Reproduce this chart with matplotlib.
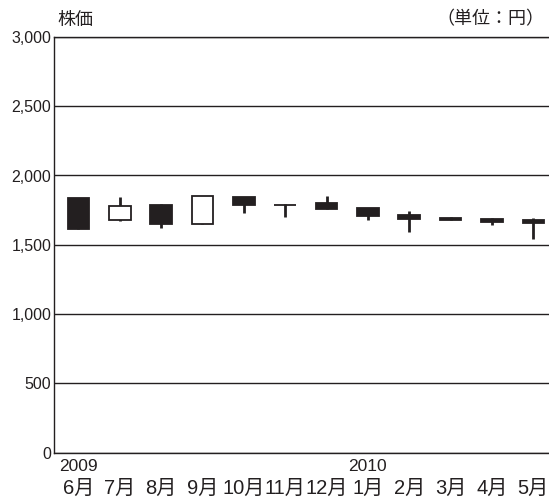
"""
株価の月足チャート（2009年6月〜2010年5月）
python plot.py -> out.png
"""

import matplotlib.pyplot as plt
from matplotlib.patches import Rectangle
import numpy as np

plt.rcParams["font.family"] = ["Liberation Sans", "Noto Sans CJK JP", "DejaVu Sans"]

months = ["6月", "7月", "8月", "9月", "10月", "11月", "12月", "1月", "2月", "3月", "4月", "5月"]
years = {0: "2009", 7: "2010"}

opens = [1835, 1679, 1787, 1650, 1843, 1790, 1799, 1767, 1713, 1693, 1686, 1677]
highs = [1838, 1843, 1796, 1854, 1845, 1792, 1852, 1767, 1744, 1700, 1695, 1693]
lows = [1612, 1671, 1623, 1650, 1727, 1702, 1756, 1679, 1594, 1677, 1643, 1541]
closes = [1615, 1782, 1648, 1854, 1787, 1785, 1756, 1708, 1684, 1677, 1662, 1659]

yticks = [0, 500, 1000, 1500, 2000, 2500, 3000]

ink = "#231f20"
body_w = 0.52

fig = plt.figure(figsize=(5.49, 4.98), dpi=100)
ax = fig.add_axes([54 / 549, (498 - 452.5) / 498, 1 - 54 / 549, 415.5 / 498])

x = np.arange(len(months))
for i in x:
    o, h, l, c = opens[i], highs[i], lows[i], closes[i]
    ax.vlines(i, l, h, color=ink, linewidth=2.0, zorder=2)
    up = c >= o
    ax.add_patch(Rectangle((i - body_w / 2, min(o, c)), body_w, max(abs(c - o), 4),
                           facecolor="white" if up else ink, edgecolor=ink,
                           linewidth=1.3, zorder=3))

ax.set_xlim(-0.59, 11.38)
ax.set_ylim(0, 3000)

ax.set_yticks(yticks)
ax.set_yticklabels([f"{v:,}" for v in yticks], fontsize=11.5)
ax.yaxis.grid(True, color=ink, linewidth=1.0)
ax.set_axisbelow(True)

ax.set_xticks(x)
ax.set_xticklabels(months, fontsize=14.5)
ax.tick_params(axis="x", length=0, pad=19, colors=ink)
ax.tick_params(axis="y", length=0, pad=2, colors=ink)

for i, y in years.items():
    ax.annotate(y, xy=(i - 0.47, 0), xycoords=("data", "axes fraction"),
                xytext=(0, -4.5), textcoords="offset points",
                ha="left", va="top", fontsize=12.5, color=ink)

ax.spines["right"].set_visible(False)
for s in ["left", "bottom", "top"]:
    ax.spines[s].set_color(ink)
    ax.spines[s].set_linewidth(1.0)

fig.text(57 / 549, 1 - 20 / 498, "株価", ha="left", va="center", fontsize=13, color=ink)
fig.text(544 / 549, 1 - 20 / 498, "（単位：円）", ha="right", va="center", fontsize=13, color=ink)

fig.savefig("out.png", dpi=100)
plt.close(fig)
